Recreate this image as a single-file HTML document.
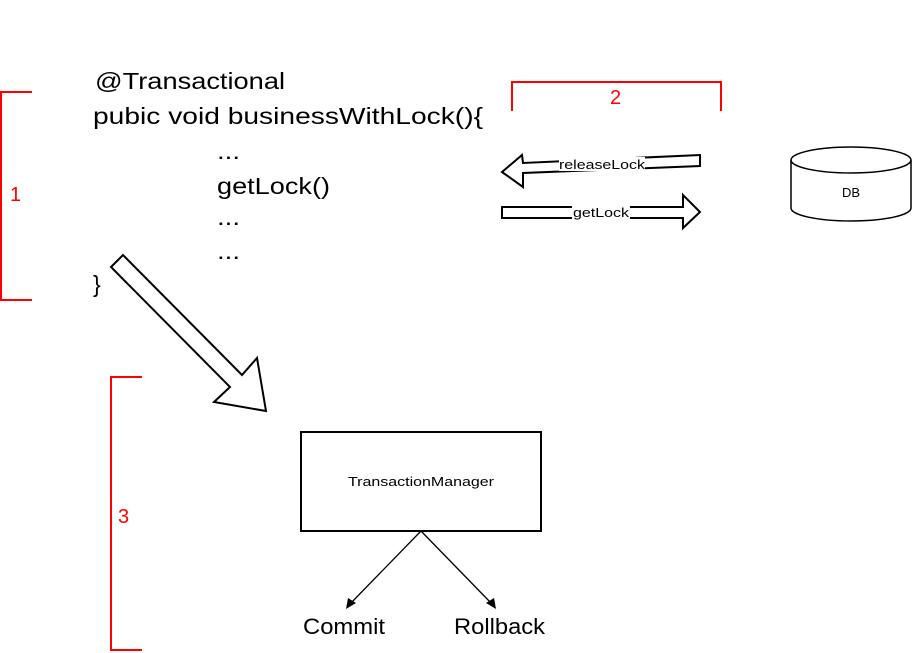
<!DOCTYPE html>
<html><head><style>
body{margin:0;background:#fff;}
svg{display:block}
text{font-family:"Liberation Sans",Arial,sans-serif}
</style></head><body>
<svg width="912" height="653" viewBox="0 0 912 653" xmlns="http://www.w3.org/2000/svg">
<g font-size="23" fill="#000">
<text x="95" y="89" textLength="190" lengthAdjust="spacingAndGlyphs">@Transactional</text>
<text x="93" y="124" textLength="390" lengthAdjust="spacingAndGlyphs">pubic void businessWithLock(){</text>
<text x="217" y="159" textLength="23" lengthAdjust="spacingAndGlyphs">...</text>
<text x="217" y="194" textLength="113" lengthAdjust="spacingAndGlyphs">getLock()</text>
<text x="217" y="225" textLength="23" lengthAdjust="spacingAndGlyphs">...</text>
<text x="217" y="259" textLength="23" lengthAdjust="spacingAndGlyphs">...</text>
<text x="93" y="292">}</text>
</g>
<g stroke="#ff0000" stroke-width="2" fill="none">
<polyline points="32,92 1,92 1,300 32,300"/>
<polyline points="512,111 512,82 721,82 721,111"/>
<polyline points="142,377 111,377 111,650 142,650"/>
</g>
<g fill="#ff0000" font-size="20">
<text x="10" y="201">1</text>
<text x="610" y="104">2</text>
<text x="118" y="523">3</text>
</g>
<g stroke="#000" stroke-width="2" fill="#fff">
<polygon points="502,172 522,155 523,163 700,155 700,166 523,173 523,187"/>
<polygon points="502,207 683,207 683,195 700,212 683,228 683,218 502,218"/>
<polygon points="111,267 123,255 242,375 257,358 266,411 214,402 230,387"/>
</g>
<rect x="559" y="157" width="86" height="14" fill="#fff"/>
<text x="559" y="169" font-size="13" textLength="86" lengthAdjust="spacingAndGlyphs">releaseLock</text>
<rect x="572" y="205" width="58" height="14" fill="#fff"/>
<text x="573" y="217" font-size="13" textLength="56" lengthAdjust="spacingAndGlyphs">getLock</text>
<path d="M791,160 a60,13 0 0 1 120,0 v48 a60,13 0 0 1 -120,0 z" fill="#fff" stroke="#000" stroke-width="1.5"/>
<path d="M791,160 a60,13 0 0 0 120,0" fill="none" stroke="#000" stroke-width="1.5"/>
<text x="851" y="197" font-size="13" text-anchor="middle">DB</text>
<rect x="301" y="432" width="240" height="99" fill="#fff" stroke="#000" stroke-width="2"/>
<text x="348" y="486" font-size="13" textLength="146" lengthAdjust="spacingAndGlyphs">TransactionManager</text>
<g stroke="#000" stroke-width="1.3">
<line x1="421" y1="531" x2="350" y2="604"/>
<line x1="421" y1="531" x2="492" y2="604"/>
</g>
<polygon points="346,609 348,598 356,603" fill="#000"/>
<polygon points="496,609 486,603 494,598" fill="#000"/>
<text x="303" y="634" font-size="22" textLength="82" lengthAdjust="spacingAndGlyphs">Commit</text>
<text x="454" y="634" font-size="22" textLength="91" lengthAdjust="spacingAndGlyphs">Rollback</text>
</svg>
</body></html>
